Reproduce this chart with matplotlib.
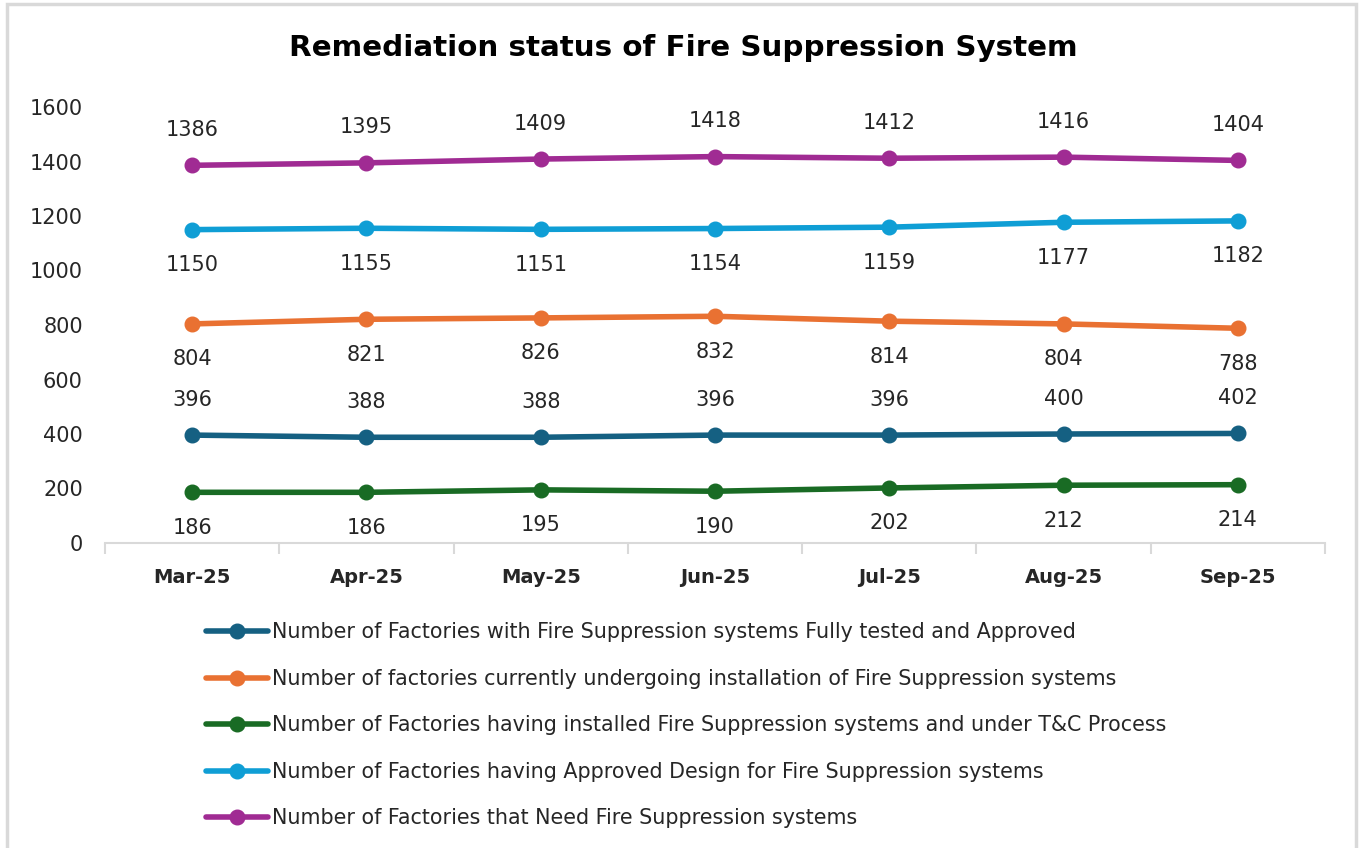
import matplotlib.pyplot as plt
from matplotlib.patches import Rectangle

months = ["Mar-25", "Apr-25", "May-25", "Jun-25", "Jul-25", "Aug-25", "Sep-25"]

tested_approved = [396, 388, 388, 396, 396, 400, 402]
under_install = [804, 821, 826, 832, 814, 804, 788]
under_tc = [186, 186, 195, 190, 202, 212, 214]
approved_design = [1150, 1155, 1151, 1154, 1159, 1177, 1182]
need_fss = [1386, 1395, 1409, 1418, 1412, 1416, 1404]

labels = [
    "Number of Factories with Fire Suppression systems Fully tested and Approved",
    "Number of factories currently undergoing installation of Fire Suppression systems",
    "Number of Factories having installed Fire Suppression systems and under T&C Process",
    "Number of Factories having Approved Design for Fire Suppression systems",
    "Number of Factories that Need Fire Suppression systems",
]
colors = ["#156082", "#E97132", "#196B24", "#0F9ED5", "#A02B93"]
# label above (+1) or below (-1) the point
label_side = [1, -1, -1, -1, 1]

series = [tested_approved, under_install, under_tc, approved_design, need_fss]

fig = plt.figure(figsize=(13.59, 8.48), dpi=100)
fig.patches.append(Rectangle((7 / 1359, -0.01), 1349 / 1359, 1 - 4 / 848 + 0.01,
                             transform=fig.transFigure, fill=False,
                             edgecolor="#d9d9d9", linewidth=2.5))

ax = fig.add_axes([105 / 1359, 1 - 543 / 848, 1220 / 1359, 436 / 848])
x = list(range(len(months)))

handles = []
for vals, col, side, lab in zip(series, colors, label_side, labels):
    h, = ax.plot(x, vals, color=col, linewidth=4, marker="o", markersize=10.5,
                 solid_capstyle="round", label=lab, clip_on=False)
    handles.append(h)
    for xi, v in zip(x, vals):
        ax.annotate(str(v), (xi, v), xytext=(0, 25.5 * side), textcoords="offset points",
                    ha="center", va="center", fontsize=15, color="#262626")

ax.set_xlim(-0.5, len(months) - 0.5)
ax.set_ylim(0, 1600)
ax.set_yticks(range(0, 1601, 200))
ax.tick_params(axis="y", length=0, pad=16, labelsize=15, labelcolor="#262626")

ax.set_xticks(x)
ax.set_xticklabels(months, fontsize=14, fontweight="bold", color="#262626")
ax.tick_params(axis="x", which="major", length=0, pad=18)
ax.set_xticks([i - 0.5 for i in range(len(months) + 1)], minor=True)
ax.tick_params(axis="x", which="minor", length=8, width=1.5, color="#d9d9d9", direction="out")

for s in ["top", "right", "left"]:
    ax.spines[s].set_visible(False)
ax.spines["bottom"].set_color("#d9d9d9")
ax.spines["bottom"].set_linewidth(1.5)

fig.text(683 / 1359, 1 - 48 / 848, "Remediation status of Fire Suppression System",
         ha="center", va="center", fontsize=21.2, fontweight="bold", color="black")

fig.legend(handles=handles, loc="upper left", bbox_to_anchor=(196 / 1359, 1 - 612 / 848),
           frameon=False, fontsize=14.9, handlelength=3.0, handletextpad=0.15,
           labelspacing=1.28, borderpad=0, labelcolor="#262626")

fig.savefig("out.png", dpi=100)
